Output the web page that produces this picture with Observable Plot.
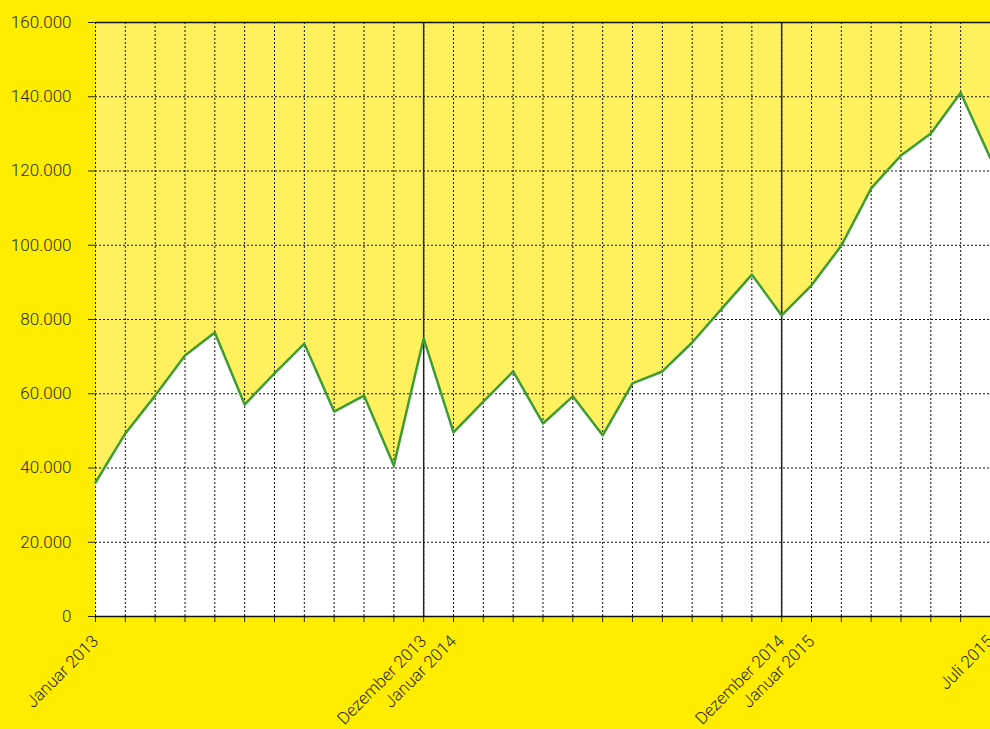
<!DOCTYPE html>
<html>
<head>
<meta charset="utf-8">
<script src="https://cdn.jsdelivr.net/npm/d3@7"></script>
<script src="https://cdn.jsdelivr.net/npm/@observablehq/plot@0.6"></script>
<style>
  html, body { margin: 0; padding: 0; background: #FFED00; overflow: hidden; }
</style>
</head>
<body>
<div id="chart"></div>
<script>
const months = [
  "Januar 2013","Februar 2013","März 2013","April 2013","Mai 2013","Juni 2013",
  "Juli 2013","August 2013","September 2013","Oktober 2013","November 2013","Dezember 2013",
  "Januar 2014","Februar 2014","März 2014","April 2014","Mai 2014","Juni 2014",
  "Juli 2014","August 2014","September 2014","Oktober 2014","November 2014","Dezember 2014",
  "Januar 2015","Februar 2015","März 2015","April 2015","Mai 2015","Juni 2015","Juli 2015"
];
const values = [
  36100, 49300, 59500, 70300, 76500, 57100, 65500, 73500, 55200, 59500, 40700, 74900,
  49600, 57900, 66000, 52000, 59300, 48800, 62800, 66000, 73800, 83000, 92100, 81100,
  89200, 99900, 115300, 124200, 130100, 141100, 123400
];
const labeledMonths = ["Januar 2013","Dezember 2013","Januar 2014","Dezember 2014","Januar 2015","Juli 2015"];
const yearEnds = ["Dezember 2013","Dezember 2014"];
const yTicks = [0, 20000, 40000, 60000, 80000, 100000, 120000, 140000, 160000];

const data = months.map((m, i) => ({i, m, v: values[i]}));
const idx = months.map((m, i) => i);
const fmt = d3.formatLocale({decimal: ",", thousands: ".", grouping: [3], currency: ["", "€"]}).format(",");

const chart = Plot.plot({
  width: 990,
  height: 729,
  marginTop: 22,
  marginRight: 0,
  marginBottom: 113,
  marginLeft: 95,
  style: {background: "#FFED00", fontFamily: "Roboto, sans-serif", fontSize: "17px", fontWeight: 300, color: "#2a2a2a", overflow: "hidden"},
  x: {
    domain: [0, months.length - 1],
    ticks: idx,
    tickSize: 6,
    tickPadding: 16,
    tickRotate: -45,
    tickFormat: d => labeledMonths.includes(months[d]) ? months[d] : "",
    label: null
  },
  y: {
    domain: [0, 160000],
    ticks: yTicks,
    tickSize: 7,
    tickPadding: 17,
    tickFormat: fmt,
    label: null
  },
  marks: [
    Plot.frame({fill: "#FFF15E", stroke: "none"}),
    Plot.areaY(data, {x: "i", y: "v", fill: "white"}),
    Plot.ruleX(idx, {stroke: "#111", strokeDasharray: "2,2", strokeWidth: 1}),
    Plot.ruleY(yTicks.slice(1, -1), {stroke: "#111", strokeDasharray: "2,2", strokeWidth: 1}),
    Plot.ruleX(yearEnds.map(m => months.indexOf(m)), {stroke: "#222", strokeWidth: 1.5}),
    Plot.ruleY([0, 160000], {stroke: "#111", strokeWidth: 1.5}),
    Plot.line(data, {x: "i", y: "v", stroke: "#3E9C35", strokeWidth: 2.5})
  ]
});
document.getElementById("chart").append(chart);
</script>
</body>
</html>
